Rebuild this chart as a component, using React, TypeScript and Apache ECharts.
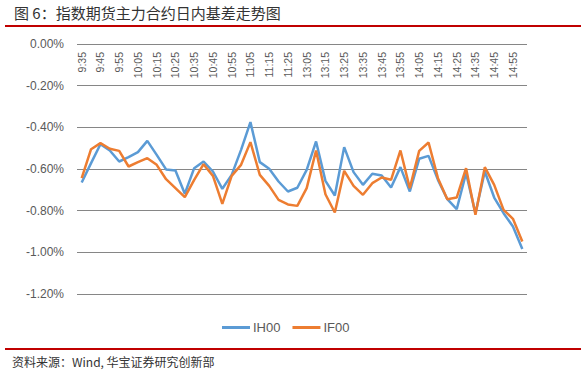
import React, { useEffect, useRef } from "react";
import * as echarts from "echarts";

const categories = [
  "9:35", "9:40", "9:45", "9:50", "9:55", "10:00", "10:05", "10:10", "10:15", "10:20", "10:25", "10:30",
  "10:35", "10:40", "10:45", "10:50", "10:55", "11:00", "11:05", "11:10", "11:15", "11:20", "11:25", "11:30",
  "13:05", "13:10", "13:15", "13:20", "13:25", "13:30", "13:35", "13:40", "13:45", "13:50", "13:55", "14:00",
  "14:05", "14:10", "14:15", "14:20", "14:25", "14:30", "14:35", "14:40", "14:45", "14:50", "14:55", "15:00",
];

const ih00 = [
  -0.665, -0.572, -0.481, -0.511, -0.564, -0.543, -0.519, -0.465, -0.532, -0.602, -0.607, -0.719,
  -0.596, -0.564, -0.612, -0.695, -0.628, -0.508, -0.375, -0.567, -0.599, -0.66, -0.708, -0.69,
  -0.604, -0.468, -0.657, -0.727, -0.495, -0.615, -0.676, -0.623, -0.631, -0.689, -0.591, -0.708,
  -0.551, -0.537, -0.652, -0.745, -0.793, -0.62, -0.812, -0.612, -0.737, -0.812, -0.876, -0.984,
];

const if00 = [
  -0.644, -0.505, -0.476, -0.503, -0.513, -0.588, -0.567, -0.548, -0.58, -0.649, -0.692, -0.735,
  -0.652, -0.577, -0.633, -0.767, -0.633, -0.58, -0.471, -0.628, -0.681, -0.748, -0.77, -0.777,
  -0.692, -0.511, -0.721, -0.809, -0.609, -0.681, -0.724, -0.668, -0.641, -0.652, -0.511, -0.692,
  -0.513, -0.473, -0.644, -0.745, -0.737, -0.596, -0.82, -0.591, -0.676, -0.796, -0.839, -0.948,
];

const seriesNames = ["IH00", "IF00"];
const titleText = "图 6：指数期货主力合约日内基差走势图";
const sourceText = "资料来源：Wind, 华宝证券研究创新部";

export default function App() {
  const ref = useRef<HTMLDivElement>(null);
  useEffect(() => {
    document.body.style.margin = "0";
    const chart = echarts.init(ref.current!, null, { renderer: "svg" });
    chart.setOption({
      animation: false,
      backgroundColor: "#ffffff",
      textStyle: { fontFamily: "'Liberation Sans', 'Noto Sans CJK SC', sans-serif" },
      grid: { left: 77, top: 44, width: 450, height: 250, containLabel: false },
      legend: {
        left: 217,
        top: 316,
        icon: "rect",
        itemWidth: 28,
        itemHeight: 3,
        itemGap: 12,
        textStyle: { color: "#595959", fontSize: 13, padding: [0, 0, 0, -2] },
        data: seriesNames,
      },
      xAxis: {
        type: "category",
        position: "top",
        data: categories,
        boundaryGap: true,
        axisLine: { show: false },
        axisTick: { show: false },
        axisLabel: {
          inside: true,
          rotate: 90,
          interval: 1,
          margin: 8,
          fontSize: 10.5,
          color: "#595959",
        },
      },
      yAxis: {
        type: "value",
        min: -1.2,
        max: 0,
        interval: 0.2,
        axisLine: { show: false },
        axisTick: { show: false },
        splitLine: { lineStyle: { color: "#868686", width: 1 } },
        axisLabel: {
          margin: 13,
          fontSize: 12,
          color: "#595959",
          formatter: (v: number) => (Math.abs(v) < 1e-9 ? "0.00%" : v.toFixed(2) + "%"),
        },
      },
      series: [
        {
          name: seriesNames[0],
          type: "line",
          data: ih00,
          symbol: "none",
          lineStyle: { color: "#5B9BD5", width: 2.5 },
          itemStyle: { color: "#5B9BD5" },
        },
        {
          name: seriesNames[1],
          type: "line",
          data: if00,
          symbol: "none",
          lineStyle: { color: "#ED7D31", width: 2.5 },
          itemStyle: { color: "#ED7D31" },
        },
      ],
      graphic: [
        {
          type: "text",
          left: 14,
          top: 5,
          style: {
            text: titleText,
            fontSize: 15,
            fill: "#333333",
            fontFamily: "'Noto Sans CJK SC', sans-serif",
          },
        },
        {
          type: "line",
          shape: { x1: 5, y1: 26, x2: 581, y2: 26 },
          style: { stroke: "#C00000", lineWidth: 2 },
        },
        {
          type: "line",
          shape: { x1: 5, y1: 349, x2: 581, y2: 349 },
          style: { stroke: "#C00000", lineWidth: 2 },
        },
        {
          type: "text",
          left: 12,
          top: 355,
          style: {
            text: sourceText,
            fontSize: 12,
            fill: "#333333",
            fontFamily: "'Noto Sans CJK SC', sans-serif",
          },
        },
      ],
    });
    return () => chart.dispose();
  }, []);
  return <div ref={ref} style={{ width: 586, height: 374 }} />;
}
